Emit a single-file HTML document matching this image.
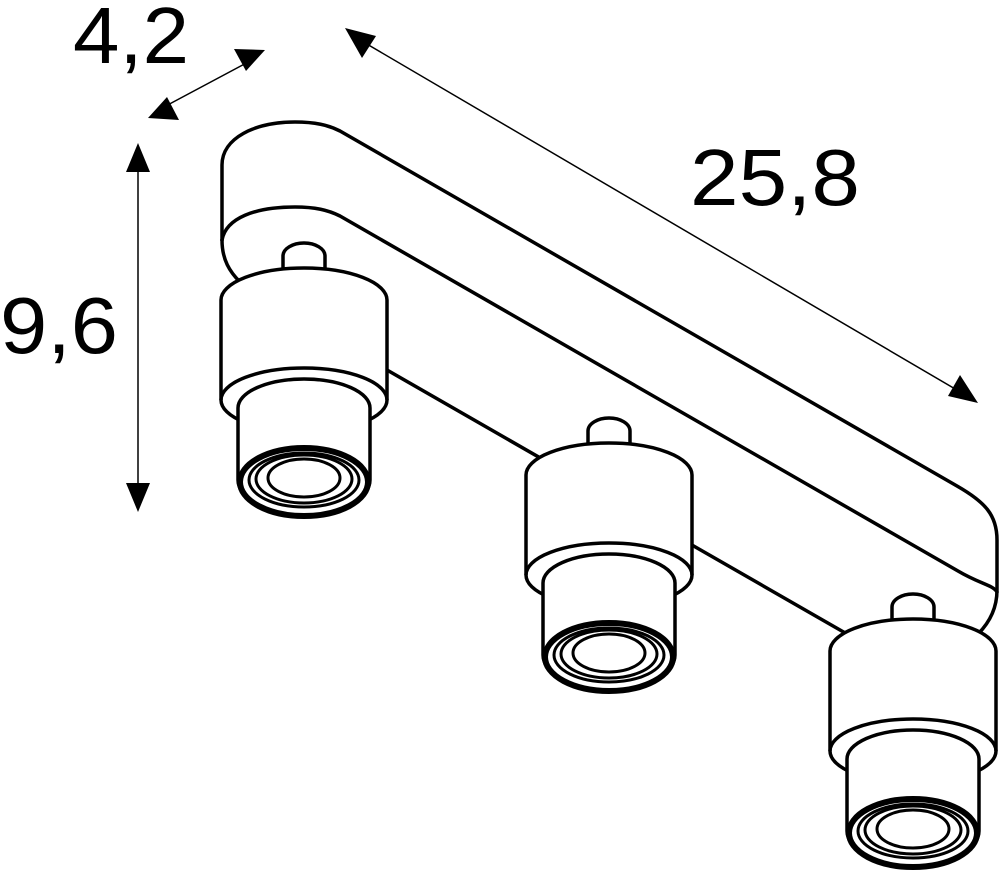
<!DOCTYPE html>
<html><head><meta charset="utf-8"><style>
html,body{margin:0;padding:0;background:#fff;}
svg{display:block;}
text{font-family:"Liberation Sans",sans-serif;font-size:80px;fill:#000;}
</style></head><body>
<svg width="1000" height="875" viewBox="0 0 1000 875" xmlns="http://www.w3.org/2000/svg">
<defs>
<g id="spot" fill="#fff" stroke="#000" stroke-width="3.5" stroke-linejoin="round">
  <path d="M-21,274 L-21,256 A21,13 0 0 1 21,256 L21,274 Z"/>
  <path d="M-83,300 A83,32 0 0 1 83,300 L83,400 A83,32 0 0 1 -83,400 Z"/>
  <path d="M-83,400 A83,32 0 0 1 83,400" fill="none"/>
  <path d="M-66,408 A66,29 0 0 1 66,408 L66,480 A66,34 0 0 1 -66,480 Z"/>
  <ellipse cx="0" cy="482" rx="64" ry="34" stroke-width="6"/>
  <ellipse cx="0" cy="480" rx="55" ry="27" stroke-width="3"/>
  <ellipse cx="0" cy="479" rx="48" ry="24" stroke-width="3"/>
  <ellipse cx="0" cy="478" rx="36" ry="19" stroke-width="3"/>
</g>
</defs>
<g fill="none" stroke="#000" stroke-width="3.5" stroke-linejoin="round" stroke-linecap="round">
  <path d="M222,240 L222,165 C222,138 255,122 295,122 C315,122 328,125 340,131 L957,486 C985,502 997,515 997,540 L997,590 C997,608 990,622 978,634"/>
  <path d="M222,240 C226,218 255,207 295,207 C315,207 328,210 340,216 L958,571 C980,584 993,585 997,592"/>
  <path d="M222,240 C222,260 230,272 240,282"/>
  <path d="M387,370 L847,634"/>
</g>
<use href="#spot" x="304" y="0"/>
<use href="#spot" x="609" y="175"/>
<use href="#spot" x="913" y="351"/>
<g stroke="#000" stroke-width="1.5">
  <line x1="138" y1="160" x2="138" y2="495"/>
  <line x1="162" y1="108" x2="252" y2="60"/>
  <line x1="360" y1="40" x2="962" y2="393"/>
</g>
<g fill="#000">
  <polygon points="138,143 126,172 150,172"/>
  <polygon points="138,512 126,483 150,483"/>
  <polygon points="148,118 179,120 167,97"/>
  <polygon points="265,50 234,49 246,71"/>
  <polygon points="345,28 376,36 362,58"/>
  <polygon points="978,403 948,396 960,375"/>
</g>
<text x="73" y="63" textLength="116" lengthAdjust="spacingAndGlyphs">4,2</text>
<text x="0" y="353" textLength="118" lengthAdjust="spacingAndGlyphs">9,6</text>
<text x="690" y="205" textLength="170" lengthAdjust="spacingAndGlyphs">25,8</text>
</svg>
</body></html>
